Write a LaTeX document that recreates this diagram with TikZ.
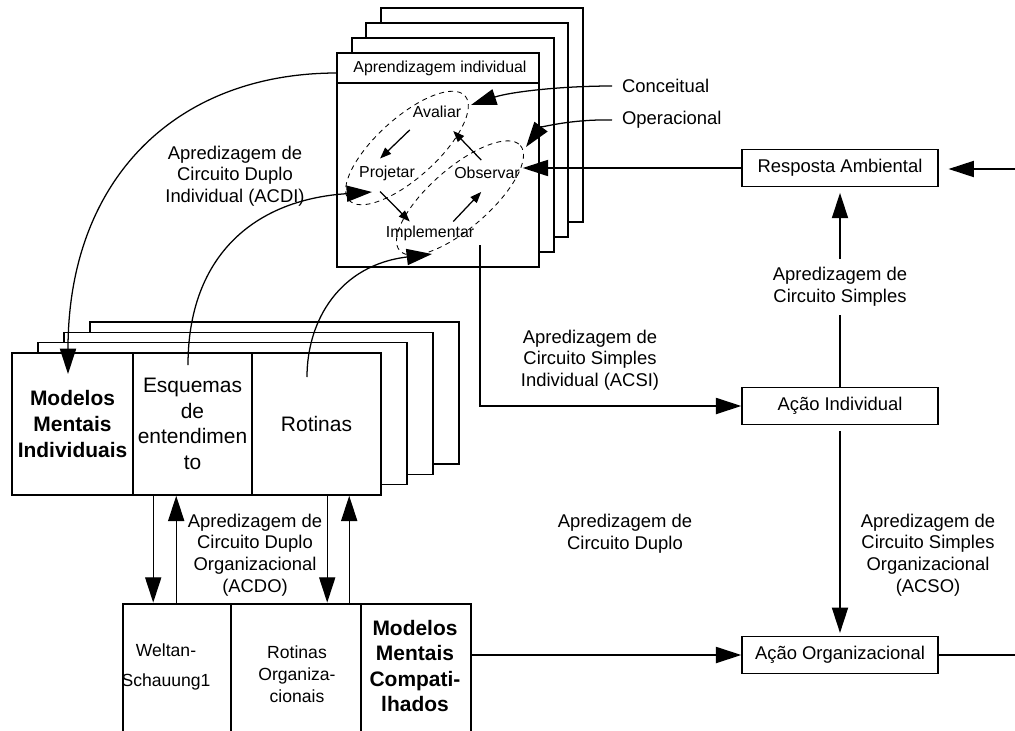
\documentclass[tikz,border=0pt]{standalone}
\usepackage{fontspec}
\setmainfont{Liberation Sans}
\usetikzlibrary{arrows.meta,calc}

\tikzset{
  >={Triangle[length=18pt,width=11.5pt]},
  conn/.style={line width=0.9pt},
  innerarrow/.style={line width=0.9pt,-{Triangle[length=8pt,width=6pt]}},
  loopline/.style={dash pattern=on 3.5pt off 3pt,line width=0.6pt},
  stackbox/.style={line width=1.4pt,fill=white},
  modbox/.style={line width=1.1pt,fill=white},
  modline/.style={line width=1.1pt},
  part/.style={draw,line width=1.1pt,fill=white,minimum height=3.55cm,inner sep=0pt},
  actbox/.style={draw,line width=1pt,minimum width=4.9cm,minimum height=0.93cm,font=\fontsize{13.1}{15.4}\selectfont},
  lbl/.style={align=center,inner sep=1pt,font=\fontsize{13.1}{15.4}\selectfont},
  smalltxt/.style={inner sep=2pt,font=\fontsize{11.3}{13.5}\selectfont},
  bigtxt/.style={align=center,font=\fontsize{14.9}{18.3}\selectfont},
  bigbold/.style={align=center,font=\bfseries\fontsize{14.9}{18.8}\selectfont},
  midtxt/.style={align=center,font=\fontsize{12.5}{15.6}\selectfont}
}

\begin{document}
\begin{tikzpicture}[x=0.025cm,y=-0.025cm]
    \useasboundingbox (0,0) rectangle (1015,731);

    % individual learning stack
    \foreach \i in {3,2,1} {
        \draw[stackbox] (337+14.7*\i,53-15*\i) rectangle (539+14.7*\i,267-15*\i);
    }
    \draw[stackbox] (337,53) rectangle (539,267);
    \draw[line width=1.4pt] (337,83) -- (539,83);
    \node[smalltxt] (hdr) at (440,68) {Aprendizagem individual};
    \coordinate (hdrw) at (337,73);

    \node[smalltxt] (avaliar) at (437,112) {Avaliar};
    \node[smalltxt] (projetar) at (387,173) {Projetar};
    \node[smalltxt] (observar) at (487,173) {Observar};
    \node[smalltxt] (implementar) at (430,233) {Implementar};

    \draw[loopline,rotate around={42:(407,148)}] (407,148) ellipse [x radius=78,y radius=30];
    \draw[loopline,rotate around={41:(460,198)}] (460,198) ellipse [x radius=80,y radius=30];

    \draw[innerarrow] ($(avaliar.south west)+(0,9)$) -- ($(projetar.north west)+(24,-4)$);
    \draw[innerarrow] ($(projetar.south west)+(24,8)$) -- ($(implementar.north west)+(27,-1)$);
    \draw[innerarrow] ($(implementar.north east)+(-24,-1)$) -- ($(observar.south west)+(30,10)$);
    \draw[innerarrow] ($(observar.north west)+(30,-4)$) -- ($(avaliar.south east)+(-11,10)$);

    \node[lbl,anchor=west,inner xsep=7pt] (conceitual) at (612,86) {Conceitual};
    \node[lbl,anchor=west,inner xsep=7pt] (operacional) at (612,120) {Operacional};
    \coordinate (cotip) at (471,105);
    \coordinate (optip) at (526,147);
    \draw[conn,->] (conceitual.west) .. controls (560,86) and (510,92) .. (cotip);
    \draw[conn,->] (operacional.west) .. controls (570,119) and (540,128) .. (optip);

    % actions on the right
    \node[actbox] (resposta) at (840,168) {Resposta Ambiental};
    \node[actbox] (acaoind) at (840,406) {Ação Individual};
    \node[actbox] (acaoorg) at (840,655) {Ação Organizacional};
    \coordinate (rin) at (1015,169);
    \coordinate (rout) at (1015,655);

    \draw[conn,->,shorten >=7pt] (rin) -- (rin -| resposta.east);
    \draw[conn,->] (resposta.west) -- (resposta.west -| observar.east);
    \draw[conn,->,shorten >=4pt] (acaoind.north) -- node[lbl,fill=white,inner sep=6pt] (acs) {Apredizagem de\\Circuito Simples} (resposta.south);
    \draw[conn,->,shorten <=4pt,shorten >=2pt] (acaoind.south) -- (acaoorg.north);
    \draw[conn] (acaoorg.east) -- (acaoorg.east -| rout);
    \node[lbl] (acso) at (928,555) {Apredizagem de\\Circuito Simples\\Organizacional\\(ACSO)};

    \coordinate (acsistart) at (480,245);
    \draw[conn,->] (acsistart) |- (acaoind.west);
    \node[lbl] (acsi) at (590,360) {Apredizagem de\\Circuito Simples\\Individual (ACSI)};
    \node[lbl] (acd) at (625,534) {Apredizagem de\\Circuito Duplo};

    % individual mental models stack
    \foreach \i in {3,2,1} {
        \draw[modbox] (12+26*\i,353-10.3*\i) rectangle (381+26*\i,495-10.3*\i);
    }
    \node[part,minimum width=3.025cm,bigbold] (modind) at (72.5,424) {Modelos\\Mentais\\Individuais};
    \node[part,minimum width=2.975cm,bigtxt] (esq) at (192.5,424) {Esquemas\\de\\entendimen\\to};
    \node[part,minimum width=3.225cm,bigtxt] (rot) at (316.5,424) {Rotinas};

    \coordinate (mmtip) at (68,374);
    \coordinate (esqtop) at (188,365);
    \coordinate (rotstart) at (307,377);
    \coordinate (prtip) at (372,192);
    \coordinate (imtip) at (432,254);
    \draw[conn,->] (hdrw) .. controls (175,73) and (68,180) .. (mmtip);
    \draw[conn,->] (esqtop) .. controls (188,260) and (250,200) .. (prtip);
    \draw[conn,->] (rotstart) .. controls (307,320) and (340,265) .. (imtip);
    \node[lbl] (acdi) at (235,176) {Apredizagem de\\Circuito Duplo\\Individual (ACDI)};

    % shared mental models
    \coordinate (bbt) at (123,604);
    \coordinate (orgout) at (471,655);
    \draw[modline] (123,731) -- (bbt) -- (471,604) -- (471,731);
    \draw[modline] (231,604) -- (231,731) (361,604) -- (361,731);
    \node[midtxt,font=\fontsize{12.5}{21}\selectfont] (weltan) at (166,667) {Weltan-\\Schauung1};
    \node[midtxt] (rotorg) at (297,674) {Rotinas\\Organiza-\\cionais};
    \node[bigbold,font=\bfseries\fontsize{14.9}{18.2}\selectfont] (modcomp) at (415,666) {Modelos\\Mentais\\Compati-\\lhados};
    \draw[conn,->] (orgout) -- (orgout -| acaoorg.west);

    \path ($(esq.south west)+(21,0)$) coordinate (v1) ($(esq.south west)+(44,0)$) coordinate (v2)
          ($(rot.south west)+(76,0)$) coordinate (v3) ($(rot.south west)+(98,0)$) coordinate (v4);
    \draw[conn,->,shorten >=1pt] (v1) -- (v1 |- bbt);
    \draw[conn,->] (v2 |- bbt) -- (v2);
    \draw[conn,->,shorten >=1pt] (v3) -- (v3 |- bbt);
    \draw[conn,->] (v4 |- bbt) -- (v4);
    \node[lbl] (acdo) at (255,555) {Apredizagem de\\Circuito Duplo\\Organizacional\\(ACDO)};

\end{tikzpicture}
\end{document}
